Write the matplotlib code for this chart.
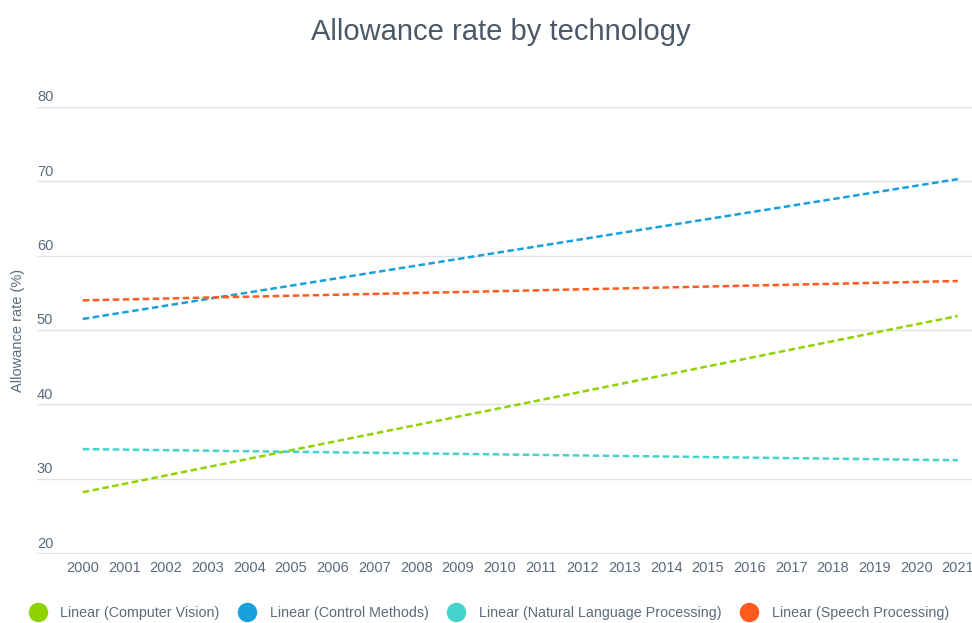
import matplotlib.pyplot as plt
from matplotlib.lines import Line2D

plt.rcParams['font.family'] = ['Liberation Sans', 'DejaVu Sans']

years = list(range(2000, 2022))
trendYears = [2000, 2021]

computerVision = [28.2, 51.9]
controlMethods = [51.5, 70.3]
nlp = [34.0, 32.5]
speech = [54.0, 56.6]

seriesNames = ['Linear (Computer Vision)', 'Linear (Control Methods)',
               'Linear (Natural Language Processing)', 'Linear (Speech Processing)']
seriesColors = ['#8fd400', '#17a0dc', '#45d3cb', '#ff5a1f']
yTicks = [20, 30, 40, 50, 60, 70, 80]

textColor = '#5b6b7c'

fig = plt.figure(figsize=(9.72, 6.23), dpi=100)
ax = fig.add_axes([0.038, 0.1108, 0.962, 0.7175])

for vals, col in zip([computerVision, controlMethods, nlp, speech], seriesColors):
    ax.plot(trendYears, vals, color=col, lw=1.8, linestyle=(0, (2.6, 1.4)), zorder=3)

ax.set_ylim(19.9, 80)
ax.set_xlim(1998.9, 2021.34)
ax.set_yticks(yTicks)
ax.set_yticklabels([])
ax.tick_params(axis='y', length=0)
ax.grid(axis='y', color='#dfe3e8', lw=1)
ax.set_axisbelow(True)
for s in ax.spines.values():
    s.set_visible(False)

# y labels sit just above their gridlines
for t in yTicks:
    ax.text(1998.9, t + 0.35, str(t), ha='left', va='bottom', fontsize=10.5, color=textColor)

ax.set_xticks(years)
ax.set_xticklabels([str(y) for y in years], fontsize=10.5, color=textColor)
ax.tick_params(axis='x', length=0, pad=5)

fig.text(0.019, 0.47, 'Allowance rate (%)', rotation=90, ha='center', va='center',
         fontsize=10.5, color=textColor)
fig.text(0.515, 0.948, 'Allowance rate by technology', ha='center', va='center',
         fontsize=21, color='#4a5868')

handles = [Line2D([], [], marker='o', linestyle='none', markersize=13,
                  markerfacecolor=c, markeredgecolor=c) for c in seriesColors]
leg = fig.legend(handles, seriesNames, loc='center', bbox_to_anchor=(0.5, 0.016),
                 ncol=4, frameon=False, fontsize=10.3, handletextpad=0.6,
                 columnspacing=0.9, borderaxespad=0)
for txt in leg.get_texts():
    txt.set_color(textColor)

fig.savefig('out.png', dpi=100)
